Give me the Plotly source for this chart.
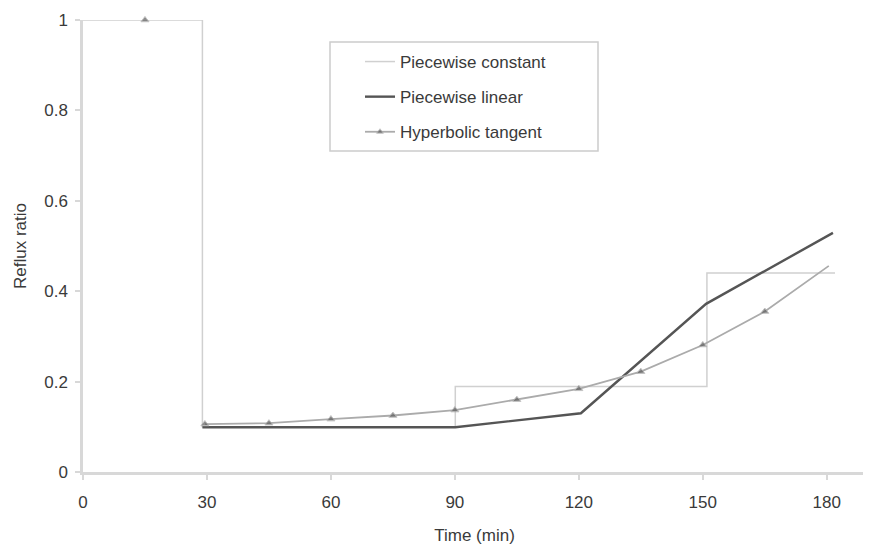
import plotly.graph_objects as go

# Piecewise constant profile
const_t = [0, 28.9, 28.9, 90.1, 90.1, 151, 151, 182]
const_r = [1.0, 1.0, 0.10, 0.10, 0.189, 0.189, 0.44, 0.44]

# Piecewise linear profile
lin_t = [28.9, 90.1, 120.5, 150.8, 181.5]
lin_r = [0.099, 0.099, 0.13, 0.372, 0.529]

# Hyperbolic tangent profile
hyp_t = [15, None, 29.5, 45, 60, 75, 90, 105, 120, 135, 150, 165, 180.5]
hyp_r = [1.0, None, 0.106, 0.108, 0.117, 0.125, 0.137, 0.16, 0.184, 0.222, 0.281, 0.355, 0.456]
hyp_marker_size = [7, 0, 7, 7, 7, 7, 7, 7, 7, 7, 7, 7, 0]

x_ticks = [0, 30, 60, 90, 120, 150, 180]
y_ticks = [0, 0.2, 0.4, 0.6, 0.8, 1]
y_tick_text = ["0", "0.2", "0.4", "0.6", "0.8", "1"]

# page offset (default body margin) compensated
OFF = 8
W, H = 871 - OFF, 546 - OFF
L, R, T, B = 83 - OFF, 5, 20 - OFF, 74
pw, ph = W - L - R, H - T - B

def px_x(x):
    # window pixel -> paper fraction
    return (x - OFF - L) / pw

def px_y(y):
    return (H - B - (y - OFF)) / ph

fig = go.Figure()
fig.add_trace(go.Scatter(x=const_t, y=const_r, mode="lines", name="Piecewise constant",
                         line=dict(color="#d0d0d0", width=1.5), legendgroup="a"))
fig.add_trace(go.Scatter(x=lin_t, y=lin_r, mode="lines", name="Piecewise linear",
                         line=dict(color="#555555", width=2.4), legendgroup="b"))
fig.add_trace(go.Scatter(x=hyp_t, y=hyp_r, mode="lines+markers", name="Hyperbolic tangent",
                         line=dict(color="#ababab", width=1.8),
                         marker=dict(symbol="triangle-up", size=hyp_marker_size, color="#5e5e5e"),
                         connectgaps=False, cliponaxis=False, legendgroup="c"))

# legend frame
fig.add_shape(type="rect", xref="paper", yref="paper",
              x0=px_x(330), x1=px_x(598), y0=px_y(151), y1=px_y(42),
              line=dict(color="#cccccc", width=1.5), fillcolor="rgba(0,0,0,0)")

fig.update_layout(
    width=W, height=H,
    margin=dict(l=L, r=R, t=T, b=B),
    paper_bgcolor="white", plot_bgcolor="white",
    font=dict(family="Liberation Sans, Arial, sans-serif", color="#3a3a3a", size=17),
    showlegend=True,
    legend=dict(x=px_x(360), y=px_y(44), xanchor="left", yanchor="top",
                borderwidth=0, bgcolor="rgba(0,0,0,0)",
                font=dict(size=17, color="#3a3a3a"),
                tracegroupgap=10, traceorder="grouped"),
    xaxis=dict(range=[0, 189.5], tickvals=x_ticks, ticks="outside", ticklen=5,
               tickcolor="#d8d8d8", tickwidth=1.5, showline=True, linecolor="#d8d8d8", linewidth=2.5,
               showgrid=False, zeroline=False, automargin=False, ticklabelstandoff=8,
               title=dict(text="Time (min)", font=dict(size=17), standoff=18)),
    yaxis=dict(range=[0, 1], tickvals=y_ticks, ticktext=y_tick_text, ticks="outside",
               ticklen=5, tickcolor="#d8d8d8", tickwidth=1.5, showline=True, linecolor="#d8d8d8",
               linewidth=2.5, showgrid=False, zeroline=False, automargin=False,
               ticklabelstandoff=4,
               title=dict(text="Reflux ratio", font=dict(size=17), standoff=14)),
)

fig.write_html("out.html")
